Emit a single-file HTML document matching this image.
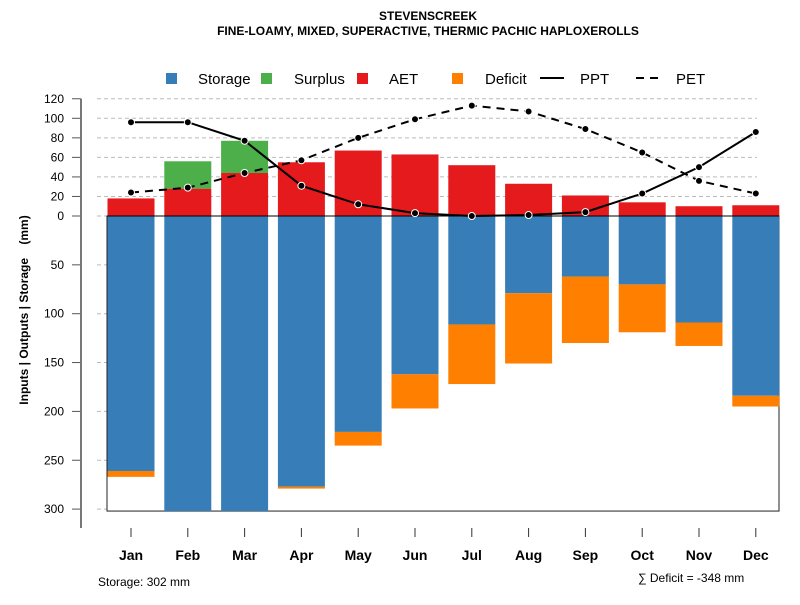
<!DOCTYPE html>
<html><head><meta charset="utf-8"><style>
body{margin:0;background:#fff}
svg text{font-family:"Liberation Sans",Arial,sans-serif}
</style></head><body>
<svg id="c" width="800" height="600" xmlns="http://www.w3.org/2000/svg">
<text x="428" y="20" font-size="12" font-weight="bold" text-anchor="middle">STEVENSCREEK</text>
<text x="428" y="35" font-size="12" font-weight="bold" text-anchor="middle">FINE-LOAMY, MIXED, SUPERACTIVE, THERMIC PACHIC HAPLOXEROLLS</text>
<g id="legend">
<rect x="166" y="73" width="11" height="11" fill="#377eb8"/>
<text x="198" y="84" font-size="15">Storage</text>
<rect x="261" y="73" width="11" height="11" fill="#4daf4a"/>
<text x="294" y="84" font-size="15">Surplus</text>
<rect x="357" y="73" width="11" height="11" fill="#e41a1c"/>
<text x="389" y="84" font-size="15">AET</text>
<rect x="452" y="73" width="11" height="11" fill="#ff7f00"/>
<text x="485" y="84" font-size="15">Deficit</text>
<line x1="540" y1="78" x2="564" y2="78" stroke="#000" stroke-width="2"/>
<text x="580" y="84" font-size="15">PPT</text>
<line x1="636" y1="78" x2="664" y2="78" stroke="#000" stroke-width="2" stroke-dasharray="8,6"/>
<text x="676" y="84" font-size="15">PET</text>
</g>
<text transform="translate(28,310) rotate(-90)" font-size="12" font-weight="bold" text-anchor="middle" style="white-space:pre" xml:space="preserve">Inputs | Outputs | Storage    (mm)</text>
<text x="98" y="586" font-size="12">Storage: 302 mm</text>
<text x="638" y="582" font-size="12">∑ Deficit = -348 mm</text>
</svg>
<script>
const months=["Jan","Feb","Mar","Apr","May","Jun","Jul","Aug","Sep","Oct","Nov","Dec"];
const storage=[261,302,302,277,221,162,111,79,62,70,109,184];
const deficit=[6,0,0,2,14,35,61,72,68,49,24,11];
const aet=[18,28,44,55,67,63,52,33,21,14,10,11];
const surplus=[0,28,33,0,0,0,0,0,0,0,0,0];
const ppt=[96,96,77,31,12,3,0,1,4,23,50,86];
const pet=[24,29,44,57,80,99,113,107,89,65,36,23];
const posTicks=[0,20,40,60,80,100,120];
const negTicks=[50,100,150,200,250,300];
const svg=document.getElementById('c');
const NS="http://www.w3.org/2000/svg";
function y(v){return 216-v*0.977;}
function x(i){return 131+i*56.8;}
const bw=47;
function mk(tag,attrs,parent){const e=document.createElementNS(NS,tag);for(const k in attrs)e.setAttribute(k,attrs[k]);(parent||svg).appendChild(e);return e;}
const grid=mk('g',{});


const allTicks=posTicks.map(v=>[v,v]).concat(negTicks.map(v=>[-v,v]));
allTicks.forEach(([v,lab])=>{
  const l=mk('line',{x1:97,x2:757,y1:y(v),y2:y(v),stroke:'#bbb','stroke-dasharray':'4,3'},grid);
  
  
  const t=mk('line',{x1:72,x2:81,y1:y(v),y2:y(v),stroke:'#555'});
  
  
  const tx=mk('text',{x:64,y:y(v)+4,'font-size':12,'text-anchor':'end'});
  tx.textContent=lab;
  
  
});
const ax=mk('line',{x1:81,x2:81,y1:y(120),y2:528,stroke:'#777','stroke-width':2});


const box=mk('rect',{x:107,y:216,width:672,height:y(-302)-216,fill:'#fff',stroke:'#222'});


months.forEach((m,i)=>{
  const cx=x(i),x0=cx-bw/2;
  const s=mk('rect',{x:x0,y:216,width:bw,height:y(-storage[i])-216,fill:'#377eb8'});
  
  
  if(deficit[i]>0){const d=mk('rect',{x:x0,y:y(-storage[i]),width:bw,height:y(-storage[i]-deficit[i])-y(-storage[i]),fill:'#ff7f00'});
  
  }
  const a=mk('rect',{x:x0,y:y(aet[i]),width:bw,height:216-y(aet[i]),fill:'#e41a1c'});
  
  
  if(surplus[i]>0){const u=mk('rect',{x:x0,y:y(aet[i]+surplus[i]),width:bw,height:y(aet[i])-y(aet[i]+surplus[i]),fill:'#4daf4a'});
  
  }
  const tk=mk('line',{x1:cx,x2:cx,y1:528,y2:537,stroke:'#333'});
  
  
  const lb=mk('text',{x:cx,y:560,'font-size':14,'font-weight':'bold','text-anchor':'middle'});
  lb.textContent=m;
  
  
});
const zl=mk('line',{x1:107,x2:779,y1:216,y2:216,stroke:'#000'});


function series(vals,name,dash){
  const p=mk('polyline',{points:vals.map((v,i)=>x(i)+','+y(v)).join(' '),fill:'none',stroke:'#000','stroke-width':2,'stroke-dasharray':dash});
  
  
  vals.forEach((v,i)=>{const c=mk('circle',{cx:x(i),cy:y(v),r:3.5,fill:'#000',stroke:'#fff','stroke-width':1});
  
  });
}
series(pet,'pet','8,6');
series(ppt,'ppt','none');
</script>
</body></html>
